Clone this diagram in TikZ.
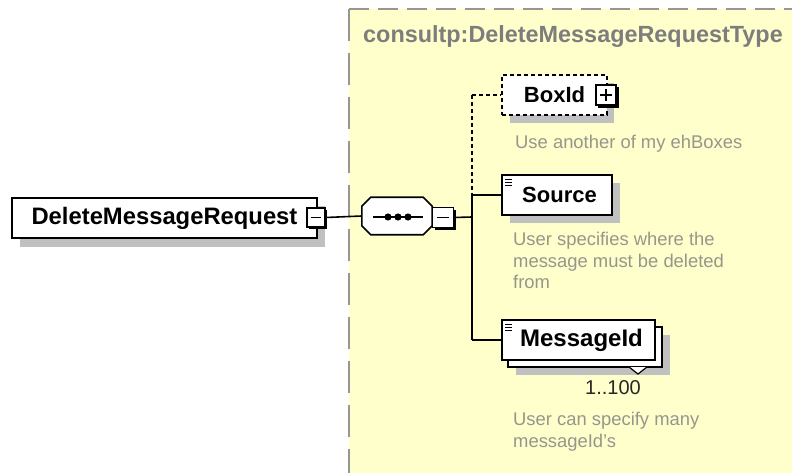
\documentclass[tikz,border=0pt]{standalone}
\usepackage{fontspec}
\setmainfont{Liberation Sans}
\usetikzlibrary{calc}
\definecolor{bgyellow}{RGB}{255,255,204}
\definecolor{shadowgray}{RGB}{192,192,192}
\definecolor{descgray}{RGB}{150,150,140}
\definecolor{titlegray}{RGB}{125,125,125}
\definecolor{bordergray}{RGB}{150,150,150}
\begin{document}
\begin{tikzpicture}[x=1pt,y=-1pt,
  elem/.style={draw=black, line width=1.6pt, fill=white, inner sep=0pt,
    font=\fontsize{22}{26}\selectfont\bfseries, text=black},
  optelem/.style={elem, dash pattern=on 4pt off 3pt},
  shadowbox/.style={fill=shadowgray, draw=none},
  desc/.style={font=\fontsize{18.4}{21.5}\selectfont, text=descgray, align=left,
    anchor=north west, inner sep=0pt},
  conn/.style={line width=1.6pt, draw=black},
  optconn/.style={conn, dash pattern=on 4pt off 3pt},
  toggle/.style={draw=black, line width=1.4pt, fill=white, inner sep=0pt},
  togshadow/.style={fill=black, draw=none}
]
\useasboundingbox (0,0) rectangle (792,473);
% type region
\fill[bgyellow] (349,9) rectangle (792,473);
\draw[bordergray, line width=2pt, dash pattern=on 20pt off 9pt] (349,9) -- (792,9);
\draw[bordergray, line width=2pt, dash pattern=on 32pt off 12pt] (349,9) -- (349,473);
\node[anchor=west, inner sep=0pt, font=\fontsize{23.4}{27}\selectfont\bfseries, text=titlegray]
  (title) at (363,37) {consultp:DeleteMessageRequestType};

% DeleteMessageRequest
\fill[shadowbox] (20,206) rectangle (325,247);
\node[elem, minimum width=305pt, minimum height=40pt, font=\fontsize{23.8}{27}\selectfont\bfseries]
  (dmr) at (164.5,218) {DeleteMessageRequest\hspace{5pt}};
\fill[togshadow] (309,210) rectangle (327,229);
\node[toggle, minimum width=18pt, minimum height=19pt] (dmrtog) at (316,217.5) {};
\draw[line width=1.4pt] ($(dmrtog.center)+(-5,0)$) -- ($(dmrtog.center)+(5,0)$);

% sequence compositor
\node[minimum width=70pt, minimum height=37pt, inner sep=0pt] (seq) at (397,216) {};
\fill[shadowgray, shift={(8,10)}]
  ($(seq.north west)+(9,0)$) -- ($(seq.north east)+(-9,0)$) -- ($(seq.north east)+(0,9)$)
  -- ($(seq.south east)+(0,-9)$) -- ($(seq.south east)+(-9,0)$) -- ($(seq.south west)+(9,0)$)
  -- ($(seq.south west)+(0,-9)$) -- ($(seq.north west)+(0,9)$) -- cycle;
\draw[line width=1.6pt, fill=white]
  ($(seq.north west)+(9,0)$) -- ($(seq.north east)+(-9,0)$) -- ($(seq.north east)+(0,9)$)
  -- ($(seq.south east)+(0,-9)$) -- ($(seq.south east)+(-9,0)$) -- ($(seq.south west)+(9,0)$)
  -- ($(seq.south west)+(0,-9)$) -- ($(seq.north west)+(0,9)$) -- cycle;
\draw[line width=1.4pt] (373,217) -- (423,217);
\foreach \dx in {388,398,408} \fill (\dx,217) circle (3.6pt);
\fill[togshadow] (435,210) rectangle (456,230);
\node[toggle, minimum width=21pt, minimum height=20pt] (seqtog) at (443,217.5) {};
\draw[line width=1.4pt] ($(seqtog.center)+(-6,0)$) -- ($(seqtog.center)+(6,0)$);

% connectors to compositor
\coordinate (bus) at (472,217);
\coordinate (busB) at (472,95);
\coordinate (busS) at (472,195);
\coordinate (busM) at (472,340);
\draw[conn] (dmrtog.east) -- (seq.west);
\draw[conn] (seqtog.east) -- (bus);

% BoxId (optional)
\fill[shadowbox] (510,83) rectangle (614,123);
\node[optelem, minimum width=105pt, minimum height=40pt] (boxid) at (554.5,95) {BoxId\hspace{12pt}};
\fill[togshadow] (598,87) rectangle (619,108);
\node[toggle, minimum width=20pt, minimum height=20pt] (boxtog) at (606,95) {};
\draw[line width=1.3pt] ($(boxtog.center)+(-6,0)$) -- ($(boxtog.center)+(6,0)$);
\draw[line width=1.3pt] ($(boxtog.center)+(0,-6)$) -- ($(boxtog.center)+(0,6)$);
\node[desc] (boxdesc) at (515,135) {Use another of my ehBoxes};

% Source
\fill[shadowbox] (510,183) rectangle (620,223);
\node[elem, minimum width=110pt, minimum height=40pt] (source) at (557,195) {\hspace{5pt}Source};
\foreach \yy in {179,182,185} \draw[line width=0.9pt] (505,\yy) -- (512,\yy);
\node[desc] (srcdesc) at (513,232) {User specifies where the\\message must be deleted\\from};

% MessageId (repeated)
\fill[shadowbox] (516,335) rectangle (670,375);
\node[elem, minimum width=154pt, minimum height=40pt] (msgback) at (585,347) {};
\node[elem, minimum width=153pt, minimum height=40pt, font=\fontsize{24}{28}\selectfont\bfseries]
  (msgid) at (578.5,340) {\hspace{6pt}MessageId};
\foreach \yy in {324,327,330} \draw[line width=0.9pt] (505,\yy) -- (512,\yy);
\draw[line width=1.2pt, fill=white] (629,367) -- (638,374) -- (647,367);
\node[inner sep=0pt, font=\fontsize{20}{24}\selectfont, text=black!85] (mult) at (613,388) {1..100};
\node[desc] (msgdesc) at (513,412) {User can specify many\\messageId's};

% bus and branch connectors
\draw[optconn] (busB) -- (busS);
\draw[conn] (busS) -- (busM);
\draw[optconn] (busB) -- (boxid.west);
\draw[conn] (busS) -- (source.west);
\draw[conn] (busM) -- (msgid.west);
\end{tikzpicture}
\end{document}
